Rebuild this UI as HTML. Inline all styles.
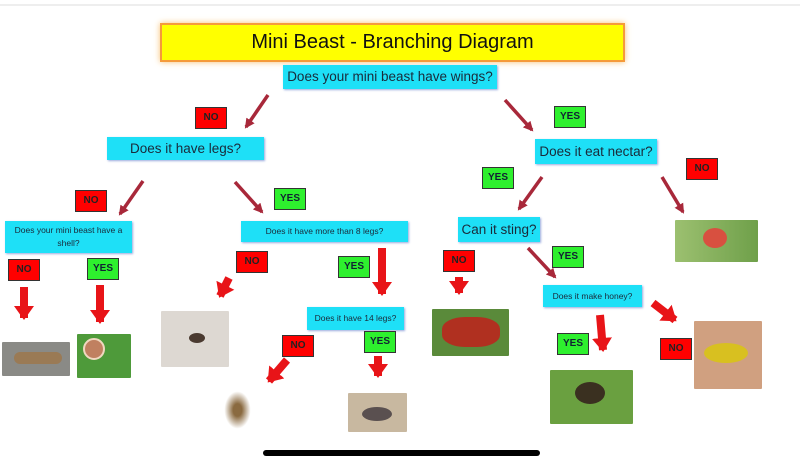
<!DOCTYPE html>
<html><head><meta charset="utf-8"><style>
body{margin:0;width:800px;height:466px;background:#fff;position:relative;overflow:hidden;font-family:"Liberation Sans",sans-serif}
.a{position:absolute;box-sizing:border-box}
.q{background:#1ee0f7;color:#1a2a3a;text-align:center;box-shadow:1px 1px 2px #9ad;}
.n,.y{font-size:10px;font-weight:bold;text-align:center;border:1px solid #333;line-height:20px;width:32px;height:22px}
.n{background:#f00;color:#222}.y{background:#2ef02e;color:#123}
.p{border-radius:1px}
</style></head><body>
<div class="a" style="left:0;top:4px;width:800px;height:2px;background:#eee"></div>
<div class="a" style="left:160px;top:23px;width:465px;height:39px;background:#ffff00;border:2px solid #f59a3a;box-shadow:0 0 6px #f8c070;font-size:20px;text-align:center;line-height:35px;color:#111">Mini Beast - Branching Diagram</div>
<div class="a q" style="left:283px;top:65px;width:214px;height:24px;font-size:13.5px;line-height:24px">Does your mini beast have wings?</div>
<div class="a q" style="left:107px;top:137px;width:157px;height:23px;font-size:13.5px;line-height:23px">Does it have legs?</div>
<div class="a q" style="left:535px;top:139px;width:122px;height:25px;font-size:13.5px;line-height:25px">Does it eat nectar?</div>
<div class="a q" style="left:458px;top:217px;width:82px;height:25px;font-size:13.5px;line-height:25px">Can it sting?</div>
<div class="a q" style="left:5px;top:221px;width:127px;height:32px;font-size:8.5px;line-height:13px;padding-top:3px">Does your mini beast have a shell?</div>
<div class="a q" style="left:241px;top:221px;width:167px;height:21px;font-size:8.5px;line-height:21px">Does it have more than 8 legs?</div>
<div class="a q" style="left:307px;top:307px;width:97px;height:23px;font-size:8.5px;line-height:23px">Does it have 14 legs?</div>
<div class="a q" style="left:543px;top:285px;width:99px;height:22px;font-size:8.5px;line-height:22px">Does it make honey?</div>

<div class="a n" style="left:195px;top:107px">NO</div>
<div class="a y" style="left:554px;top:106px">YES</div>
<div class="a n" style="left:686px;top:158px">NO</div>
<div class="a y" style="left:482px;top:167px">YES</div>
<div class="a n" style="left:75px;top:190px">NO</div>
<div class="a y" style="left:274px;top:188px">YES</div>
<div class="a n" style="left:8px;top:259px">NO</div>
<div class="a y" style="left:87px;top:258px">YES</div>
<div class="a n" style="left:236px;top:251px">NO</div>
<div class="a y" style="left:338px;top:256px">YES</div>
<div class="a n" style="left:282px;top:335px">NO</div>
<div class="a y" style="left:364px;top:331px">YES</div>
<div class="a n" style="left:443px;top:250px">NO</div>
<div class="a y" style="left:552px;top:246px">YES</div>
<div class="a y" style="left:557px;top:333px">YES</div>
<div class="a n" style="left:660px;top:338px">NO</div>

<!-- photos -->
<div class="a p" style="left:675px;top:220px;width:83px;height:42px;background:linear-gradient(90deg,#9cc070,#6fa04a)"><div class="a" style="left:28px;top:8px;width:24px;height:20px;border-radius:50%;background:#d85040"></div></div>
<div class="a p" style="left:2px;top:342px;width:68px;height:34px;background:#8a8a86"><div class="a" style="left:12px;top:10px;width:48px;height:12px;border-radius:8px;background:#9a7a55"></div></div>
<div class="a p" style="left:77px;top:334px;width:54px;height:44px;background:#4e9a3a"><div class="a" style="left:6px;top:4px;width:22px;height:22px;border-radius:50%;background:#c08060;border:2px solid #f0d8c0"></div></div>
<div class="a p" style="left:161px;top:311px;width:68px;height:56px;background:#ddd8d2"><div class="a" style="left:28px;top:22px;width:16px;height:10px;border-radius:50%;background:#4a3a30"></div></div>
<div class="a" style="left:222px;top:388px;width:31px;height:44px;background:radial-gradient(ellipse,#8a6a40 20%,#fff 60%)"></div>
<div class="a p" style="left:348px;top:393px;width:59px;height:39px;background:#c8b8a0"><div class="a" style="left:14px;top:14px;width:30px;height:14px;border-radius:50%;background:#5a5050"></div></div>
<div class="a p" style="left:432px;top:309px;width:77px;height:47px;background:#5a8a3a"><div class="a" style="left:10px;top:8px;width:58px;height:30px;border-radius:40%;background:#b03020"></div></div>
<div class="a p" style="left:550px;top:370px;width:83px;height:54px;background:#6aa040"><div class="a" style="left:25px;top:12px;width:30px;height:22px;border-radius:50%;background:#3a3020"></div></div>
<div class="a p" style="left:694px;top:321px;width:68px;height:68px;background:#d0a080"><div class="a" style="left:10px;top:22px;width:44px;height:20px;border-radius:50%;background:#d8c020"></div></div>

<svg class="a" style="left:0;top:0" width="800" height="466">
<defs>
<marker id="h" markerUnits="userSpaceOnUse" markerWidth="12" markerHeight="12" refX="8" refY="6" orient="auto"><path d="M0,1 L10,6 L0,11 z" fill="#a8283a"/></marker>
<marker id="H" markerUnits="userSpaceOnUse" markerWidth="22" markerHeight="22" refX="12" refY="11" orient="auto"><path d="M0,1 L14,11 L0,21 z" fill="#e81418"/></marker>
</defs>
<g stroke="#a8283a" stroke-width="3.5" marker-end="url(#h)">
<line x1="268" y1="95" x2="246" y2="127"/>
<line x1="505" y1="100" x2="532" y2="130"/>
<line x1="662" y1="177" x2="683" y2="212"/>
<line x1="542" y1="177" x2="519" y2="209"/>
<line x1="143" y1="181" x2="120" y2="214"/>
<line x1="235" y1="182" x2="262" y2="212"/>
<line x1="528" y1="248" x2="555" y2="277"/>
</g>
<g stroke="#e81418" stroke-width="8" marker-end="url(#H)">
<line x1="24" y1="287" x2="24" y2="318"/>
<line x1="100" y1="285" x2="100" y2="322"/>
<line x1="229" y1="278" x2="220" y2="296"/>
<line x1="382" y1="248" x2="382" y2="294"/>
<line x1="287" y1="360" x2="269" y2="381"/>
<line x1="378" y1="356" x2="378" y2="376"/>
<line x1="459" y1="277" x2="459" y2="293"/>
<line x1="600" y1="315" x2="603" y2="350"/>
<line x1="653" y1="303" x2="675" y2="320"/>
</g>
<rect x="263" y="450" width="277" height="6" rx="3" fill="#000"/>
</svg>
</body></html>
